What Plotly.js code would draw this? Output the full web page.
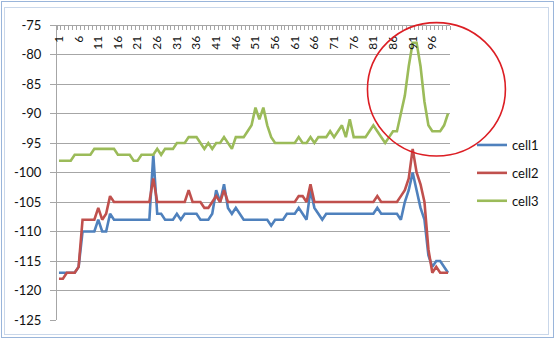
<!DOCTYPE html>
<html>
<head>
<meta charset="utf-8">
<script src="https://cdn.plot.ly/plotly-3.0.1.min.js"></script>
<style>
  html, body { margin: 0; padding: 0; background: #ffffff; }
  #wrap { position: relative; width: 556px; height: 340px; overflow: hidden; }
  #chart { position: absolute; left: 0; top: 0; width: 556px; height: 340px; }
  .frame1 { position: absolute; left: 1px; top: 1px; width: 551px; height: 335px; border: 1px solid #9ab5da; pointer-events: none; }
  .frame2 { position: absolute; left: 4px; top: 7px; width: 543px; height: 326px; border: 1px solid #c9d7ea; pointer-events: none; }
</style>
</head>
<body>
<div id="wrap">
  <div id="chart"></div>
  <div class="frame1"></div>
  <div class="frame2"></div>
</div>
<script>
// ---- data ----
const categories = [1,2,3,4,5,6,7,8,9,10,11,12,13,14,15,16,17,18,19,20,
  21,22,23,24,25,26,27,28,29,30,31,32,33,34,35,36,37,38,39,40,
  41,42,43,44,45,46,47,48,49,50,51,52,53,54,55,56,57,58,59,60,
  61,62,63,64,65,66,67,68,69,70,71,72,73,74,75,76,77,78,79,80,
  81,82,83,84,85,86,87,88,89,90,91,92,93,94,95,96,97,98,99,100];

const tickVals = [1,6,11,16,21,26,31,36,41,46,51,56,61,66,71,76,81,86,91,96];
const tickLabels = ["1","6","11","16","21","26","31","36","41","46","51","56","61","66","71","76","81","86","91","96"];

const yTickVals = [-125,-120,-115,-110,-105,-100,-95,-90,-85,-80,-75];
const yTickLabels = ["-125","-120","-115","-110","-105","-100","-95","-90","-85","-80","-75"];

const cell1 = [
  -117,-117,-117,-117,-117,-116,-110,-110,-110,-110,
  -108,-110,-110,-107,-108,-108,-108,-108,-108,-108,
  -108,-108,-108,-108,-97,-107,-107,-108,-108,-108,
  -107,-108,-107,-107,-107,-107,-108,-108,-108,-107,
  -103,-105,-102,-106,-107,-106,-107,-108,-108,-108,
  -108,-108,-108,-108,-109,-108,-108,-108,-107,-107,
  -107,-106,-107,-108,-103,-106,-107,-108,-107,-107,
  -107,-107,-107,-107,-107,-107,-107,-107,-107,-107,
  -107,-106,-107,-107,-107,-107,-107,-108,-105,-103,
  -100,-103,-106,-108,-114,-116,-115,-115,-116,-117];

const cell2 = [
  -118,-118,-117,-117,-117,-116,-108,-108,-108,-108,
  -106,-108,-107,-104,-105,-105,-105,-105,-105,-105,
  -105,-105,-105,-105,-101,-105,-105,-105,-105,-105,
  -105,-105,-105,-103,-105,-105,-105,-106,-106,-105,
  -104,-105,-103,-105,-105,-105,-105,-105,-105,-105,
  -105,-105,-105,-105,-105,-105,-105,-105,-105,-105,
  -105,-104,-104,-105,-102,-105,-105,-105,-105,-105,
  -105,-105,-105,-105,-105,-105,-105,-105,-105,-105,
  -105,-104,-105,-105,-105,-105,-105,-104,-103,-101,
  -96,-100,-102,-105,-113,-117,-116,-117,-117,-117];

const cell3 = [
  -98,-98,-98,-98,-97,-97,-97,-97,-97,-96,
  -96,-96,-96,-96,-96,-97,-97,-97,-97,-98,
  -98,-97,-97,-97,-97,-96,-97,-96,-96,-96,
  -95,-95,-95,-94,-94,-94,-95,-96,-95,-96,
  -95,-95,-94,-95,-96,-94,-94,-94,-93,-92,
  -89,-91,-89,-92,-94,-95,-95,-95,-95,-95,
  -95,-94,-95,-95,-94,-95,-94,-94,-94,-93,
  -94,-93,-92,-94,-91,-94,-94,-94,-94,-93,
  -92,-93,-94,-95,-94,-93,-93,-90,-87,-82,
  -78,-78,-82,-88,-92,-93,-93,-93,-92,-90];

const seriesNames = ["cell1", "cell2", "cell3"];
const seriesColors = ["#4f81bd", "#c0504d", "#9bbb59"];
const seriesValues = [cell1, cell2, cell3];

const FONT = "Lato, 'Liberation Sans', Arial, sans-serif";

const traces = seriesValues.map((vals, k) => ({
  type: "scatter",
  mode: "lines",
  x: categories,
  y: vals,
  name: seriesNames[k],
  legendgroup: seriesNames[k],
  line: { color: seriesColors[k], width: 2.6, shape: "linear" },
  hoverinfo: "skip"
}));

const layout = {
  width: 556,
  height: 340,
  margin: { l: 57, r: 101, t: 25, b: 20, pad: 0 },
  paper_bgcolor: "#ffffff",
  plot_bgcolor: "#ffffff",
  font: { family: FONT, size: 13, color: "#111111" },
  showlegend: true,
  legend: {
    x: 1.056, xanchor: "left",
    y: 0.644, yanchor: "top",
    traceorder: "grouped",
    tracegroupgap: 8,
    font: { family: FONT, size: 13, color: "#111111" },
    bgcolor: "rgba(0,0,0,0)",
    borderwidth: 0
  },
  xaxis: {
    type: "linear",
    range: [0.5, 100.5],
    anchor: "free",
    position: 1,
    side: "bottom",
    tickmode: "array",
    tickvals: tickVals,
    ticktext: tickLabels,
    tickangle: -90,
    ticks: "",
    ticklabelstandoff: 5,
    tickfont: { family: FONT, size: 12, color: "#111111" },
    showgrid: false,
    zeroline: false,
    showline: true,
    linecolor: "#a6a6a6",
    linewidth: 1,
    minor: { tick0: 0.5, dtick: 1, ticks: "outside", ticklen: 4, tickcolor: "#a6a6a6", tickwidth: 1, showgrid: false },
    fixedrange: true
  },
  yaxis: {
    range: [-125, -75],
    tickmode: "array",
    tickvals: yTickVals,
    ticktext: yTickLabels,
    ticks: "outside",
    ticklen: 6,
    tickcolor: "#a6a6a6",
    ticklabelstandoff: 6,
    tickfont: { family: FONT, size: 13, color: "#111111" },
    showgrid: true,
    gridcolor: "#a6a6a6",
    gridwidth: 1,
    zeroline: false,
    showline: true,
    linecolor: "#a6a6a6",
    linewidth: 1,
    fixedrange: true
  },
  shapes: [{
    type: "circle",
    xref: "paper", yref: "paper",
    x0: 0.79, x1: 1.141,
    y0: 0.556, y1: 1.008,
    line: { color: "#dc1e24", width: 1.6 },
    fillcolor: "rgba(0,0,0,0)",
    layer: "above"
  }]
};

Plotly.newPlot("chart", traces, layout, { displayModeBar: false, staticPlot: true });
</script>
</body>
</html>
